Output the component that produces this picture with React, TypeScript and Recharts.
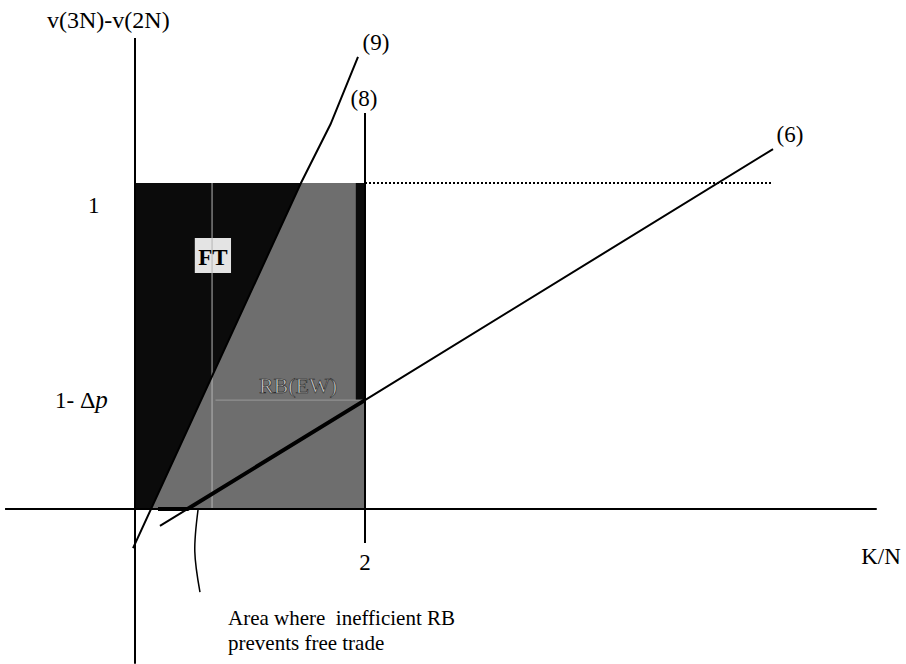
import {
    ComposedChart,
    Line,
    Area,
    XAxis,
    YAxis,
    ReferenceArea,
} from 'recharts';

// axes in K/N (x) and v(3N)-v(2N) (y) units
const vAxis = [{ x: 0, y: -0.475 }, { x: 0, y: 1.445 }];
const hAxis = [{ x: -1.13, y: 0 }, { x: 6.45, y: 0 }];

// boundary curves
const line9 = [
    { x: -0.017, y: -0.12 },
    { x: 1.443, y: 1 },
    { x: 1.7, y: 1.18 },
    { x: 1.939, y: 1.387 },
];
const line8 = [{ x: 2, y: -0.104 }, { x: 2, y: 1.215 }];
const line6 = [{ x: 0.217, y: -0.052 }, { x: 2, y: 0.334 }, { x: 5.548, y: 1.104 }];
const boldPart = [{ x: 0.2, y: 0 }, { x: 0.457, y: 0 }, { x: 2, y: 0.334 }];
const dottedOne = [{ x: 2, y: 1 }, { x: 5.548, y: 1 }];

// thin guide lines seen in the scan
const guideV = [{ x: 0.67, y: 0 }, { x: 0.67, y: 1 }];
const guideH = [{ x: 0.7, y: 0.334 }, { x: 2, y: 0.334 }];

// pointer from the note to the small area near the origin
const pointer = [
    { x: 0.548, y: -0.003 },
    { x: 0.52, y: -0.13 },
    { x: 0.565, y: -0.255 },
];

// shaded regions, band = [low, high]
const ftRegion = [
    { x: 0, band: [0, 1] },
    { x: 0.139, band: [0, 1] },
    { x: 1.443, band: [1, 1] },
];
const rbRegion = [
    { x: 0.139, band: [0, 0] },
    { x: 1.443, band: [0, 1] },
    { x: 2, band: [0, 1] },
];
const edgeStrip = [{ x: 1.92, band: [0.334, 1] }, { x: 2, band: [0.334, 1] }];
const leftStrip = [{ x: 0, band: [0, 1] }, { x: 0.04, band: [0, 1] }];

const SERIF = '"Liberation Serif", "DejaVu Serif", serif';

const seg = (data: { x: number; y: number }[], width = 2, extra: any = {}) => (
    <Line
        data={data}
        dataKey="y"
        type="linear"
        stroke="#000"
        strokeWidth={width}
        dot={false}
        activeDot={false}
        isAnimationActive={false}
        legendType="none"
        {...extra}
    />
);

export default function App() {
    return (
        <div style={{ position: 'absolute', left: 0, top: 0, width: 906, height: 664, background: '#fff' }}>
            <ComposedChart width={906} height={664} margin={{ top: 0, right: 0, bottom: 0, left: 0 }}>
                <XAxis type="number" dataKey="x" domain={[-1.1739, 6.7043]} allowDataOverflow hide />
                <YAxis type="number" domain={[-0.4755, 1.5613]} allowDataOverflow hide />

                <Area data={leftStrip} dataKey="band" type="linear" stroke="none" fill="#8a8a8a" fillOpacity={1} isAnimationActive={false} />
                <Area data={ftRegion} dataKey="band" type="linear" stroke="none" fill="#0b0b0b" fillOpacity={1} isAnimationActive={false} />
                <Area data={rbRegion} dataKey="band" type="linear" stroke="none" fill="#6e6e6e" fillOpacity={1} isAnimationActive={false} />
                <Area data={edgeStrip} dataKey="band" type="linear" stroke="none" fill="#0b0b0b" fillOpacity={1} isAnimationActive={false} />

                {seg(guideV, 1, { stroke: '#b5b5b5' })}
                {seg(guideH, 1, { stroke: '#9a9a9a' })}

                <ReferenceArea x1={0.52} x2={0.835} y1={0.724} y2={0.831} fill="#e4e4e4" fillOpacity={1} stroke="none" />

                {seg(vAxis, 2)}
                {seg(hAxis, 2)}
                {seg(line9, 2)}
                {seg(line8, 2)}
                {seg(line6, 2)}
                {seg(boldPart, 4)}
                {seg(dottedOne, 2, { strokeDasharray: '2 2' })}
                {seg(pointer, 1.5, { type: 'natural' })}
            </ComposedChart>

            <svg
                width={906}
                height={664}
                style={{ position: 'absolute', left: 0, top: 0, pointerEvents: 'none' }}
                fontFamily={SERIF}
                fontSize={23}
            >
                <text x={47} y={28} fontSize={24}>v(3N)-v(2N)</text>
                <text x={88} y={213}>1</text>
                <text x={55} y={408}>
                    1- <tspan fontSize={24}>Δ</tspan><tspan fontStyle="italic" fontSize={25}>p</tspan>
                </text>
                <text x={376} y={50} textAnchor="middle">(9)</text>
                <text x={364} y={106} textAnchor="middle">(8)</text>
                <text x={790} y={142} textAnchor="middle">(6)</text>
                <text x={365} y={570} textAnchor="middle">2</text>
                <text x={881} y={564} textAnchor="middle">K/N</text>
                <text x={213} y={265} textAnchor="middle" fontWeight="bold" fontSize={23}>FT</text>
                <text x={298} y={393} textAnchor="middle" fill="#c4c4c4" stroke="#222" strokeWidth={0.6} fontSize={22}>RB(EW)</text>
                <text x={228} y={625} fontSize={21}>{'Area where\u00a0 inefficient RB'}</text>
                <text x={228} y={650} fontSize={21}>prevents free trade</text>
            </svg>
        </div>
    );
}
